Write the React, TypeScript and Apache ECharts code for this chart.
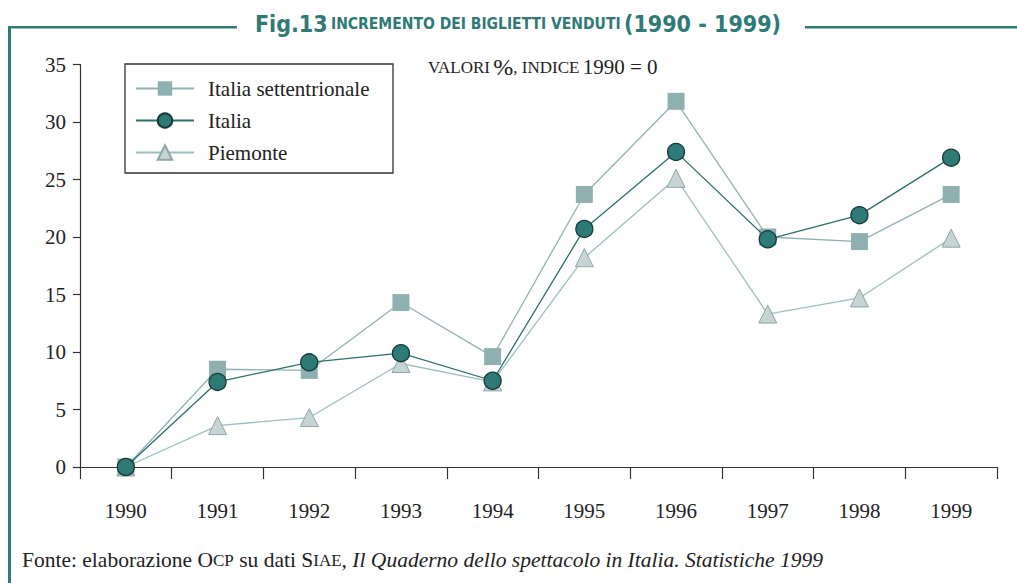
import React, { useEffect, useRef } from "react";
import * as echarts from "echarts";

const years = ["1990", "1991", "1992", "1993", "1994", "1995", "1996", "1997", "1998", "1999"];
const italiaSettentrionale = [0, 8.5, 8.4, 14.3, 9.6, 23.7, 31.8, 20.0, 19.6, 23.7];
const italia = [0, 7.4, 9.1, 9.9, 7.5, 20.7, 27.4, 19.8, 21.9, 26.9];
const piemonte = [0, 3.6, 4.3, 9.0, 7.4, 18.2, 25.1, 13.3, 14.7, 19.9];
const yTicks = [0, 5, 10, 15, 20, 25, 30, 35];

const TEAL = "#2d7a77";
const SERIF = "'Liberation Serif', 'DejaVu Serif', serif";
const COND = "'DejaVu Sans Condensed', 'DejaVu Sans', sans-serif";

export default function App() {
  const ref = useRef<HTMLDivElement>(null);
  useEffect(() => {
    if (!ref.current) return;
    const chart = echarts.init(ref.current, null, { renderer: "svg" });
    chart.setOption({
      animation: false,
      backgroundColor: "#ffffff",
      textStyle: { fontFamily: SERIF },
      grid: { left: 80, right: 20, top: 64.5, bottom: 116, containLabel: false },
      legend: {
        orient: "vertical",
        left: 135,
        top: 78,
        itemWidth: 58,
        itemHeight: 18,
        itemGap: 11,
        padding: 0,
        formatter: "{t|{name}}",
        textStyle: {
          fontFamily: SERIF,
          fontSize: 21,
          color: "#222",
          padding: [0, 0, 0, 9],
          rich: { t: { fontFamily: SERIF, fontSize: 21, color: "#222" } },
        },
        data: ["Italia settentrionale", "Italia", "Piemonte"],
      },
      xAxis: {
        type: "category",
        data: years,
        boundaryGap: true,
        axisLine: { lineStyle: { color: "#333", width: 1.2 } },
        axisTick: { show: true, length: 12, lineStyle: { color: "#333", width: 1.2 } },
        axisLabel: { margin: 33, fontFamily: SERIF, fontSize: 21, color: "#222" },
        splitLine: { show: false },
      },
      yAxis: {
        type: "value",
        min: yTicks[0],
        max: yTicks[yTicks.length - 1],
        interval: 5,
        axisLine: { show: true, lineStyle: { color: "#333", width: 1.2 } },
        axisTick: { show: true, length: 7, lineStyle: { color: "#333", width: 1.2 } },
        axisLabel: { margin: 14, fontFamily: SERIF, fontSize: 21, color: "#222" },
        splitLine: { show: false },
      },
      series: [
        {
          name: "Piemonte",
          type: "line",
          data: piemonte,
          symbol: "triangle",
          symbolSize: 18,
          itemStyle: { color: "#c6d4d4", borderColor: "#8ea6a6", borderWidth: 1 },
          lineStyle: { color: "#9ac0c0", width: 1.3 },
          z: 2,
        },
        {
          name: "Italia settentrionale",
          type: "line",
          data: italiaSettentrionale,
          symbol: "rect",
          symbolSize: 17,
          itemStyle: { color: "#8fb0b0", borderWidth: 0 },
          lineStyle: { color: "#8fb3b3", width: 1.3 },
          z: 3,
        },
        {
          name: "Italia",
          type: "line",
          data: italia,
          symbol: "circle",
          symbolSize: 17,
          itemStyle: { color: TEAL, borderColor: "#17393a", borderWidth: 1.3 },
          lineStyle: { color: "#2a6f6c", width: 1.3 },
          z: 4,
        },
      ],
      graphic: [
        { type: "rect", shape: { x: 8, y: 26, width: 3, height: 600 }, style: { fill: TEAL } },
        { type: "rect", shape: { x: 8, y: 26, width: 229, height: 2.5 }, style: { fill: TEAL } },
        { type: "rect", shape: { x: 805, y: 26, width: 212, height: 2.5 }, style: { fill: TEAL } },
        {
          type: "text",
          x: 518,
          y: 24,
          style: {
            text: "{a|Fig.13} {b|INCREMENTO DEI BIGLIETTI VENDUTI} {a|(1990 - 1999)}",
            align: "center",
            verticalAlign: "middle",
            rich: {
              a: { fontFamily: COND, fontWeight: "bold", fontSize: 23, fill: TEAL },
              b: { fontFamily: COND, fontWeight: "bold", fontSize: 15.5, fill: TEAL },
            },
          },
        },
        {
          type: "rect",
          shape: { x: 125, y: 64, width: 268, height: 109 },
          style: { fill: "transparent", stroke: "#333", lineWidth: 1.3 },
          z: 10,
        },
        {
          type: "text",
          x: 428,
          y: 67,
          style: {
            text: "{s|VALORI} {l|%}{s|, INDICE} {m|1990 = 0}",
            verticalAlign: "middle",
            rich: {
              s: { fontFamily: SERIF, fontSize: 17, fill: "#222" },
              l: { fontFamily: SERIF, fontSize: 24, fill: "#222" },
              m: { fontFamily: SERIF, fontSize: 21, fill: "#222" },
            },
          },
        },
        {
          type: "text",
          x: 22,
          y: 560,
          style: {
            text:
              "{n|Fonte: elaborazione O}{c|CP}{n| su dati S}{c|IAE}{n|, }{i|Il Quaderno dello spettacolo in Italia. Statistiche 1999}",
            verticalAlign: "middle",
            rich: {
              n: { fontFamily: SERIF, fontSize: 21.5, fill: "#222" },
              c: { fontFamily: SERIF, fontSize: 17, fill: "#222" },
              i: { fontFamily: SERIF, fontSize: 21.5, fontStyle: "italic", fill: "#222" },
            },
          },
        },
      ],
    });
    return () => chart.dispose();
  }, []);
  return (
    <div
      ref={ref}
      style={{ position: "fixed", left: 0, top: 0, width: 1017, height: 583 }}
    />
  );
}
